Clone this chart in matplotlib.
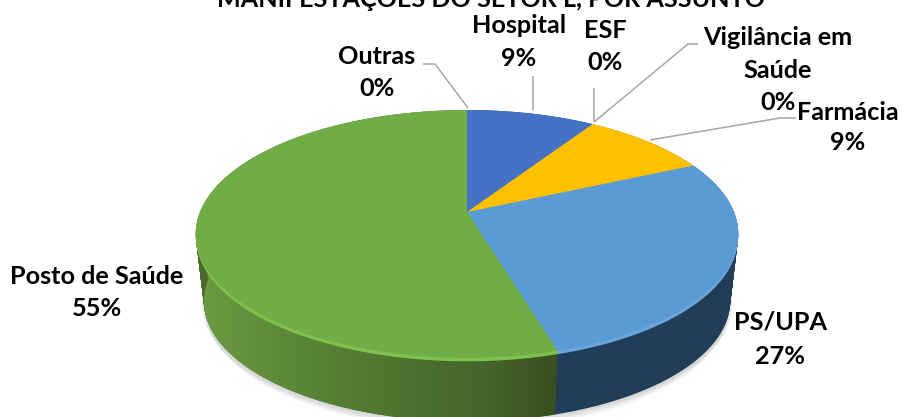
import numpy as np
import matplotlib
matplotlib.use("Agg")
import matplotlib.pyplot as plt
from matplotlib.path import Path
from matplotlib.transforms import Transform, Affine2D
from matplotlib.patches import PathPatch
from matplotlib.colors import LinearSegmentedColormap

categories = ["Hospital", "ESF", "Vigilância em\nSaúde", "Farmácia", "PS/UPA", "Posto de Saúde", "Outras"]
counts = [1, 0, 0, 1, 3, 6, 0]
percent_labels = ["9%", "0%", "0%", "9%", "27%", "55%", "0%"]
top_colors = ["#4472C4", "#ED7D31", "#A5A5A5", "#FFC000", "#5B9BD5", "#70AD47", "#264478"]
rim_colors = ["#4472C4", "#ED7D31", "#A5A5A5", "#FFC000", "#6AA6DC", "#7FC04F", "#264478"]
side_colors = ["#2A4478", "#8A4A1D", "#636363", "#997300", "#223D57", "#4A6A2B", "#162848"]
title = "MANIFESTAÇÕES DO SETOR L, POR ASSUNTO"
FONT = "Lato"
FS = 18.2

CX, CY = 467.0, 212.0
A, B, C = 267.0, 120.0, 0.177
DEPTH, SHRINK = 68.0, 0.03


def project(x, y, t):
    w = 1 + C * y
    s = 1 - SHRINK * t
    return CX + s * A * x / w, CY - s * B * y / w + DEPTH * t


class Persp(Transform):
    input_dims = output_dims = 2
    has_inverse = False
    is_separable = False

    def __init__(self, t, grow=1.0):
        super().__init__()
        self.t = t
        self.grow = grow

    def transform_non_affine(self, values):
        v = np.asarray(values)
        X, Y = project(v[:, 0], v[:, 1], self.t)
        return np.column_stack([CX + (X - CX) * self.grow, Y])

    def transform_path_non_affine(self, path):
        polys = path.transformed(Affine2D().scale(2000)).to_polygons(closed_only=False)
        pts = np.vstack(polys) / 2000 if polys else np.zeros((0, 2))
        return Path(self.transform_non_affine(pts))


fig = plt.figure(figsize=(9.01, 4.17), dpi=100)
ax = fig.add_axes([0, 0, 1, 1])


def layer(colors, t, zorder, alpha=None, grow=1.0):
    wedges, _ = ax.pie(counts, colors=colors, startangle=90, counterclock=False,
                       wedgeprops={"linewidth": 0})
    tr = Persp(t, grow)
    for w in wedges:
        w.set_transform(tr + ax.transData)
        w.set_zorder(zorder)
        w.set_clip_on(False)
        if alpha is not None:
            w.set_alpha(alpha)
    return wedges


# soft shadow under the pie
for i in range(10):
    layer(["#7F7F7F"] * len(counts), 1.02 + i * 0.012, 1, alpha=0.03, grow=1.012 - i * 0.002)

# side wall
for t in np.linspace(1, 0, 75):
    layer(side_colors, t, 2 + (1 - t))

# gradient on the Posto de Saúde wall
top = layer(top_colors, 0, 6)
w = top[categories.index("Posto de Saúde")]
th = np.radians(np.linspace(w.theta1, w.theta2, 400))
xs, ys = np.cos(th), np.sin(th)
keep = ys <= 0.0
xs, ys = xs[keep], ys[keep]
X0, Y0 = project(xs, ys, 0.03)
X1, Y1 = project(xs, ys, 1.0)
poly = np.column_stack([np.r_[X0, X1[::-1]], np.r_[Y0, Y1[::-1]]])
cmap = LinearSegmentedColormap.from_list("g", [(0, "#6C9C42"), (0.3, "#5A8637"), (0.55, "#4F7430"),
                                              (0.8, "#46652B"), (1, "#3A4F1F")])
im = ax.imshow(np.linspace(0, 1, 256)[None, :], cmap=cmap, aspect="auto",
               extent=[X0.min() - 3, X0.max(), 420, 200], zorder=3.5)
im.set_clip_path(PathPatch(Path(poly), transform=ax.transData))

# light rim between wall and top
for t in np.linspace(0.055, 0.01, 5):
    layer(rim_colors, t, 4 + (1 - t))

ax.set_aspect("auto")
ax.set_xlim(0, 901)
ax.set_ylim(417, 0)
ax.axis("off")

# leader lines
leaders = [
    ([423, 435, 468], [64, 64, 108]),
    ([533, 533], [76, 110]),
    ([594, 594], [88, 122]),
    ([698, 688, 594], [44, 44, 122]),
    ([796, 780, 650], [118, 118, 140]),
]
for lx, ly in leaders:
    ax.plot(lx, ly, color="#A6A6A6", lw=1.1, zorder=7, solid_capstyle="butt")

kw = dict(fontfamily=FONT, fontweight="bold", fontsize=FS, color="black",
          ha="center", va="center", zorder=8)
label_pos = [
    (519, [25, 58]),
    (605, [30, 62]),
    (778, [37, 70, 102]),
    (848, [112, 143]),
    (780, [322, 356]),
    (97, [277, 309]),
    (377, [56, 88]),
]
for cat, pct, (x, ys_) in zip(categories, percent_labels, label_pos):
    for line, y in zip(cat.split("\n") + [pct], ys_):
        ax.text(x, y, line, **kw)

ax.text(491, 7, title, fontfamily=FONT, fontweight="bold", fontsize=18.1,
        ha="center", va="baseline", color="black", zorder=8)

fig.savefig("out.png", dpi=100, facecolor="white")
